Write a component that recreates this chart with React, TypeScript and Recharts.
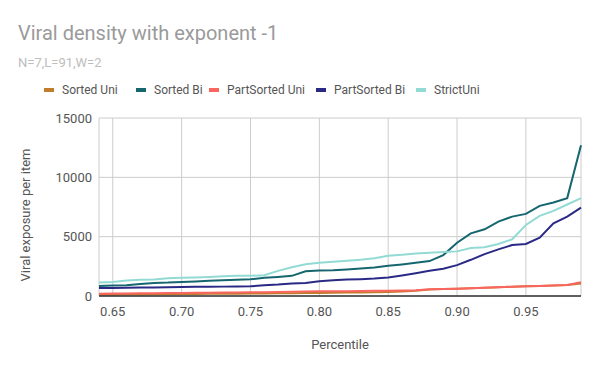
import { LineChart, Line, XAxis, YAxis, CartesianGrid } from "recharts"

const percentiles = [
  0.64, 0.65, 0.66, 0.67, 0.68, 0.69, 0.70, 0.71, 0.72, 0.73, 0.74, 0.75,
  0.76, 0.77, 0.78, 0.79, 0.80, 0.81, 0.82, 0.83, 0.84, 0.85, 0.86, 0.87,
  0.88, 0.89, 0.90, 0.91, 0.92, 0.93, 0.94, 0.95, 0.96, 0.97, 0.98, 0.99,
]

const sortedUni = [
  100, 110, 120, 130, 140, 150, 160, 170, 180, 190, 200, 210,
  220, 230, 240, 250, 260, 270, 290, 300, 320, 340, 380, 440,
  540, 590, 620, 650, 690, 730, 780, 820, 850, 880, 920, 1060,
]
const sortedBi = [
  850, 880, 900, 1020, 1100, 1130, 1190, 1230, 1280, 1320, 1360, 1410,
  1530, 1610, 1700, 2090, 2150, 2180, 2240, 2320, 2400, 2540, 2660, 2800,
  2940, 3450, 4490, 5280, 5620, 6270, 6690, 6920, 7600, 7880, 8250, 12700,
]
const partSortedUni = [
  200, 210, 220, 230, 240, 250, 260, 270, 280, 290, 300, 310,
  320, 330, 350, 370, 390, 400, 410, 420, 440, 450, 470, 490,
  560, 600, 620, 650, 690, 730, 780, 820, 850, 880, 920, 1150,
]
const partSortedBi = [
  680, 680, 700, 710, 720, 730, 760, 770, 780, 790, 800, 820,
  900, 960, 1050, 1100, 1250, 1330, 1390, 1420, 1470, 1560, 1730, 1920,
  2120, 2290, 2600, 3050, 3530, 3930, 4290, 4380, 4910, 6130, 6690, 7450,
]
const strictUni = [
  1130, 1190, 1300, 1360, 1390, 1500, 1530, 1560, 1610, 1670, 1700, 1700,
  1750, 2120, 2430, 2680, 2800, 2880, 2970, 3050, 3190, 3390, 3470, 3590,
  3640, 3700, 3760, 4040, 4100, 4380, 4780, 5990, 6750, 7170, 7710, 8250,
]

const xTicks = [0.65, 0.70, 0.75, 0.80, 0.85, 0.90, 0.95]
const yTicks = [0, 5000, 10000, 15000]

const series = [
  { key: "sortedUni", name: "Sorted Uni", color: "#c17c2c", values: sortedUni, legendX: 44 },
  { key: "sortedBi", name: "Sorted Bi", color: "#16666f", values: sortedBi, legendX: 136 },
  { key: "partSortedUni", name: "PartSorted Uni", color: "#fa6560", values: partSortedUni, legendX: 209 },
  { key: "partSortedBi", name: "PartSorted Bi", color: "#2a2a86", values: partSortedBi, legendX: 316 },
  { key: "strictUni", name: "StrictUni", color: "#92dbd4", values: strictUni, legendX: 416 },
]

const data = percentiles.map((p, i) => {
  const row: Record<string, number> = { p }
  series.forEach(s => { row[s.key] = s.values[i] })
  return row
})

const font = "Roboto, 'Open Sans', sans-serif"

export default function App() {
  return (
    <div style={{ position: "absolute", left: 0, top: 0, width: 600, height: 371, background: "#fff", fontFamily: font }}>
      <div style={{ position: "absolute", left: 18, top: 23, fontSize: 20, lineHeight: "20px", color: "#9a9a9a", whiteSpace: "nowrap" }}>
        Viral density with exponent -1
      </div>
      <div style={{ position: "absolute", left: 18, top: 56, fontSize: 13, lineHeight: "13px", color: "#bdbdbd", whiteSpace: "nowrap" }}>
        N=7,L=91,W=2
      </div>
      {series.map(s => (
        <div key={s.key} style={{ position: "absolute", left: s.legendX, top: 83, height: 14, display: "flex", alignItems: "center", fontSize: 12, color: "#555", whiteSpace: "nowrap" }}>
          <span style={{ display: "inline-block", width: 10, height: 4, background: s.color, marginRight: 8 }} />
          {s.name}
        </div>
      ))}
      <LineChart width={600} height={371} data={data}
        margin={{ top: 118, right: 19, bottom: 25, left: 0 }}
        style={{ position: "absolute", left: 0, top: 0 }}>
        <CartesianGrid stroke="#cccccc" strokeWidth={1} verticalPoints={undefined} />
        <XAxis dataKey="p" type="number" domain={[0.64, 0.99]} ticks={xTicks} height={50}
          tickFormatter={(v: number) => v.toFixed(2)} tickLine={false} tickSize={6} tickMargin={5}
          axisLine={{ stroke: "#333", strokeWidth: 1.5 }}
          tick={{ fontSize: 13, fill: "#555", fontFamily: font }}
          label={{
            content: ({ viewBox }: any) => (
              <text x={viewBox.x + viewBox.width / 2} y={viewBox.y + 53} textAnchor="middle"
                fontSize={13} fill="#555" fontFamily={font}>Percentile</text>
            ),
          }} />
        <YAxis type="number" domain={[0, 15000]} ticks={yTicks} width={99} axisLine={false}
          tickLine={false} tickSize={6} tickMargin={1}
          tick={{ fontSize: 13, fill: "#555", fontFamily: font }}
          label={{
            content: ({ viewBox }: any) => {
              const cx = viewBox.x + 30
              const cy = viewBox.y + viewBox.height / 2 + 8
              return (
                <text x={cx} y={cy} textAnchor="middle" transform={`rotate(-90 ${cx} ${cy})`}
                  fontSize={13} fill="#555" fontFamily={font}>Viral exposure per item</text>
              )
            },
          }} />
        {series.map(s => (
          <Line key={s.key} dataKey={s.key} name={s.name} stroke={s.color} strokeWidth={2}
            dot={false} isAnimationActive={false} type="linear" />
        ))}
      </LineChart>
    </div>
  )
}
